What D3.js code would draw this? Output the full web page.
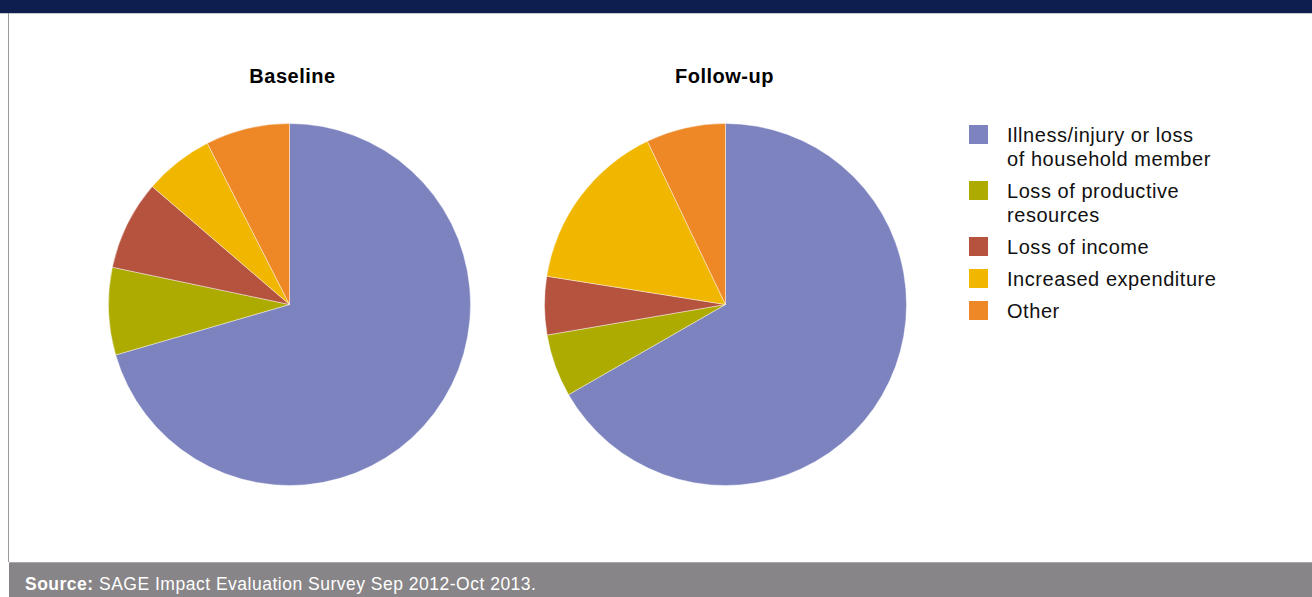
<!DOCTYPE html>
<html>
<head>
<meta charset="utf-8">
<script src="https://cdn.jsdelivr.net/npm/d3@7"></script>
<style>
  html, body { margin: 0; padding: 0; background: #ffffff; }
  svg { display: block; font-family: "Liberation Sans", Arial, Helvetica, sans-serif; }
</style>
</head>
<body>
<svg id="chart" width="1312" height="597"></svg>
<script>
// Causes of shocks reported by households, share of responses (%)
const categories = [
  ["Illness/injury or loss", "of household member"],
  ["Loss of productive", "resources"],
  ["Loss of income"],
  ["Increased expenditure"],
  ["Other"]
];
const colors = ["#7c83bf", "#adaa00", "#b5533f", "#f0b600", "#ee8726"];
const panels = ["Baseline", "Follow-up"];
const baselineValues = [70.5, 7.8, 8.0, 6.2, 7.5];
const followupValues = [66.7, 5.6, 5.2, 15.4, 7.1];
const sourceLabel = "Source:";
const sourceText = " SAGE Impact Evaluation Survey Sep 2012-Oct 2013.";

const W = 1312, H = 597;
const svg = d3.select("#chart");

// Frame: navy header strip, left rule, grey source band
svg.append("rect").attr("x", 0).attr("y", 0).attr("width", W).attr("height", 13).attr("fill", "#0e1f4f");
svg.append("line").attr("x1", 0).attr("x2", W).attr("y1", 13.5).attr("y2", 13.5).attr("stroke", "#c8c8cc").attr("stroke-width", 1);
svg.append("line").attr("x1", 8.5).attr("x2", 8.5).attr("y1", 13).attr("y2", 562).attr("stroke", "#9a9a9a").attr("stroke-width", 1);
svg.append("rect").attr("x", 9).attr("y", 562).attr("width", W - 9).attr("height", H - 562).attr("fill", "#878587");
svg.append("line").attr("x1", 9).attr("x2", W).attr("y1", 562.5).attr("y2", 562.5).attr("stroke", "#a9a7a9").attr("stroke-width", 1);

const src = svg.append("text").attr("x", 25).attr("y", 590)
  .attr("fill", "#ffffff").attr("font-size", 17.5).attr("letter-spacing", 0.5);
src.append("tspan").attr("font-weight", "bold").text(sourceLabel);
src.append("tspan").text(sourceText);

// Pies
const radius = 181;
const centers = d3.scalePoint().domain(panels).range([289.5, 725.5]);
const pie = d3.pie().sort(null).value(d => d);
const arc = d3.arc().innerRadius(0).outerRadius(radius);
const titleShift = [3, -1];

[baselineValues, followupValues].forEach((vals, i) => {
  const cx = centers(panels[i]);
  const g = svg.append("g").attr("transform", `translate(${cx},304.5)`);
  g.selectAll("path").data(pie(vals)).join("path")
    .attr("d", arc)
    .attr("fill", (d, j) => colors[j])
    .attr("stroke", "#ffffff").attr("stroke-width", 0.6).attr("stroke-opacity", 0.7);
  svg.append("text").attr("x", cx + titleShift[i]).attr("y", 83)
    .attr("text-anchor", "middle").attr("font-weight", "bold").attr("font-size", 20)
    .attr("letter-spacing", 0.5)
    .attr("fill", "#000000").text(panels[i]);
});

// Legend
const legend = svg.append("g").attr("transform", "translate(969,125)");
let y = 0;
categories.forEach((lines, i) => {
  const item = legend.append("g").attr("transform", `translate(0,${y})`);
  item.append("rect").attr("width", 19).attr("height", 19).attr("fill", colors[i]);
  lines.forEach((t, k) => {
    item.append("text").attr("x", 38).attr("y", 16.5 + k * 24)
      .attr("font-size", 20).attr("letter-spacing", 0.55)
      .attr("fill", "#111111").text(t);
  });
  y += 32 + (lines.length - 1) * 24;
});
</script>
</body>
</html>
